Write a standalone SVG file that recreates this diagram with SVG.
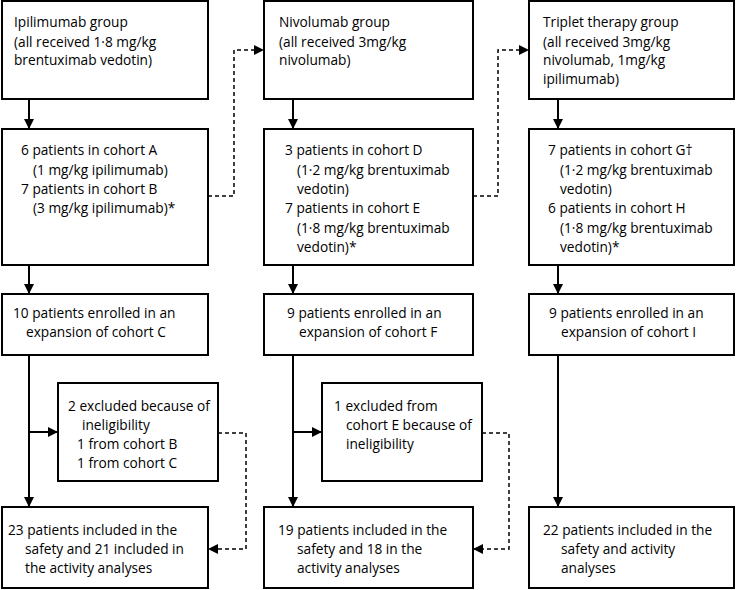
<svg xmlns="http://www.w3.org/2000/svg" width="736" height="590" viewBox="0 0 736 590">
<defs>
<style>
.box{fill:#fff;stroke:#000;stroke-width:2}
.t{font-family:"Open Sans","Liberation Sans",sans-serif;font-size:13.7px;fill:#000}
.ln{fill:none;stroke:#000;stroke-width:2}
.dl{fill:none;stroke:#000;stroke-width:1.5;stroke-dasharray:4 3}
</style>
<marker id="ah" viewBox="0 0 10 10" refX="10" refY="5" markerWidth="10" markerHeight="11" markerUnits="userSpaceOnUse" orient="auto">
<path d="M0,0 L10,5 L0,10 z" fill="#000"/>
</marker>
</defs>
<rect width="736" height="590" fill="#fff"/>
<g id="connectors">
<path class="ln" d="M29,99 V129" marker-end="url(#ah)"/>
<path class="ln" d="M29,265 V294" marker-end="url(#ah)"/>
<path class="ln" d="M29,355 V507" marker-end="url(#ah)"/>
<path class="ln" d="M29,432 H58" marker-end="url(#ah)"/>
<path class="ln" d="M293,99 V129" marker-end="url(#ah)"/>
<path class="ln" d="M293,265 V294" marker-end="url(#ah)"/>
<path class="ln" d="M293,355 V507" marker-end="url(#ah)"/>
<path class="ln" d="M293,432 H322" marker-end="url(#ah)"/>
<path class="ln" d="M558,99 V129" marker-end="url(#ah)"/>
<path class="ln" d="M558,265 V294" marker-end="url(#ah)"/>
<path class="ln" d="M558,355 V507" marker-end="url(#ah)"/>
<path class="dl" d="M208,196 H234 V50 H264" marker-end="url(#ah)"/>
<path class="dl" d="M473,196 H498 V50 H529" marker-end="url(#ah)"/>
<path class="dl" d="M218,433 H246 V549 H208" marker-end="url(#ah)"/>
<path class="dl" d="M482,433 H509 V549 H473" marker-end="url(#ah)"/>
</g>
<g id="ipi-group">
<rect class="box" x="2" y="1" width="206" height="98"/>
<text class="t" x="14" y="27">Ipilimumab group</text>
<text class="t" x="14" y="46.5">(all received 1·8 mg/kg</text>
<text class="t" x="14" y="65">brentuximab vedotin)</text>
</g>
<g id="nivo-group">
<rect class="box" x="264" y="1" width="209" height="98"/>
<text class="t" x="279" y="27">Nivolumab group</text>
<text class="t" x="279" y="46.5">(all received 3mg/kg</text>
<text class="t" x="279" y="65">nivolumab)</text>
</g>
<g id="triplet-group">
<rect class="box" x="529" y="1" width="205" height="98"/>
<text class="t" x="543" y="27">Triplet therapy group</text>
<text class="t" x="543" y="46.5">(all received 3mg/kg</text>
<text class="t" x="543" y="65">nivolumab, 1mg/kg</text>
<text class="t" x="543" y="84">ipilimumab)</text>
</g>
<g id="cohort-ab">
<rect class="box" x="2" y="129" width="206" height="136"/>
<text class="t" x="21" y="155">6 patients in cohort A</text>
<text class="t" x="33" y="174.5">(1 mg/kg ipilimumab)</text>
<text class="t" x="21" y="193.5">7 patients in cohort B</text>
<text class="t" x="33" y="213">(3 mg/kg ipilimumab)*</text>
</g>
<g id="cohort-de">
<rect class="box" x="264" y="129" width="209" height="136"/>
<text class="t" x="285" y="155">3 patients in cohort D</text>
<text class="t" x="297" y="174.5">(1·2 mg/kg brentuximab</text>
<text class="t" x="297" y="193.5">vedotin)</text>
<text class="t" x="285" y="213">7 patients in cohort E</text>
<text class="t" x="297" y="232.5">(1·8 mg/kg brentuximab</text>
<text class="t" x="297" y="252">vedotin)*</text>
</g>
<g id="cohort-gh">
<rect class="box" x="529" y="129" width="205" height="136"/>
<text class="t" x="548" y="155">7 patients in cohort G†</text>
<text class="t" x="560" y="174.5">(1·2 mg/kg brentuximab</text>
<text class="t" x="560" y="193.5">vedotin)</text>
<text class="t" x="548" y="213">6 patients in cohort H</text>
<text class="t" x="560" y="232.5">(1·8 mg/kg brentuximab</text>
<text class="t" x="560" y="252">vedotin)*</text>
</g>
<g id="cohort-c">
<rect class="box" x="2" y="294" width="206" height="61"/>
<text class="t" x="13" y="318">10 patients enrolled in an</text>
<text class="t" x="26" y="337">expansion of cohort C</text>
</g>
<g id="cohort-f">
<rect class="box" x="264" y="294" width="209" height="61"/>
<text class="t" x="287" y="318">9 patients enrolled in an</text>
<text class="t" x="299" y="337">expansion of cohort F</text>
</g>
<g id="cohort-i">
<rect class="box" x="529" y="294" width="205" height="61"/>
<text class="t" x="549" y="318">9 patients enrolled in an</text>
<text class="t" x="561" y="337">expansion of cohort I</text>
</g>
<g id="excl-1">
<rect class="box" x="58" y="383" width="160" height="98"/>
<text class="t" x="68" y="411">2 excluded because of</text>
<text class="t" x="82" y="430">ineligibility</text>
<text class="t" x="77" y="449">1 from cohort B</text>
<text class="t" x="77" y="468">1 from cohort C</text>
</g>
<g id="excl-2">
<rect class="box" x="322" y="383" width="160" height="98"/>
<text class="t" x="334" y="411">1 excluded from</text>
<text class="t" x="346" y="430">cohort E because of</text>
<text class="t" x="346" y="449">ineligibility</text>
</g>
<g id="final-1">
<rect class="box" x="2" y="507" width="206" height="81"/>
<text class="t" x="8" y="535">23 patients included in the</text>
<text class="t" x="25" y="554">safety and 21 included in</text>
<text class="t" x="25" y="573">the activity analyses</text>
</g>
<g id="final-2">
<rect class="box" x="264" y="507" width="209" height="81"/>
<text class="t" x="278" y="535">19 patients included in the</text>
<text class="t" x="297" y="554">safety and 18 in the</text>
<text class="t" x="297" y="573">activity analyses</text>
</g>
<g id="final-3">
<rect class="box" x="529" y="507" width="205" height="81"/>
<text class="t" x="543" y="535">22 patients included in the</text>
<text class="t" x="561" y="554">safety and activity</text>
<text class="t" x="561" y="573">analyses</text>
</g>
</svg>
